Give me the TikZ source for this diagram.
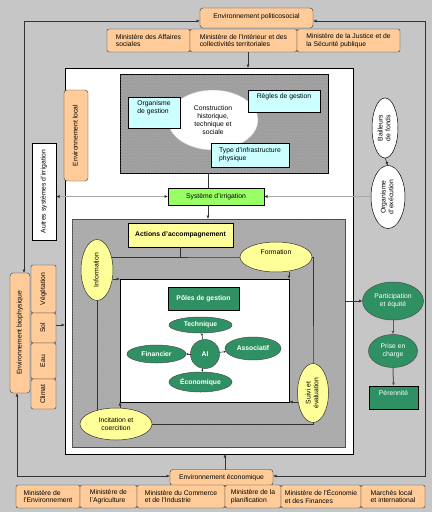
\documentclass[tikz,border=0pt]{standalone}
\usepackage{fontspec}
\setmainfont{Liberation Sans}
\usetikzlibrary{shapes.geometric,arrows.meta,calc,patterns}
\definecolor{bgc}{HTML}{C6C6C6}
\definecolor{orangec}{HTML}{FFCC99}
\definecolor{cyanc}{HTML}{CCFFFF}
\definecolor{yelc}{HTML}{FFFF99}
\definecolor{lgreenc}{HTML}{99FF66}
\definecolor{dgreenc}{HTML}{2F9163}
\definecolor{dgrayc}{HTML}{9E9E9E}
\definecolor{mgrayc}{HTML}{ABABAB}
\definecolor{dotc}{HTML}{B8B8B8}
\definecolor{lineg}{HTML}{A8A8A8}
\newcommand\fs{\fontsize{6.8}{7.8}\selectfont}
\newcommand\vt[1]{\rotatebox{90}{\begin{tabular}{@{}c@{}}#1\end{tabular}}}
\begin{document}
\begin{tikzpicture}[x=1pt,y=-1pt,
  every node/.style={font=\fs, inner sep=0pt, outer sep=0pt},
  ob/.style={draw=black!80, fill=orangec, rounded corners=2pt, line width=0.4pt},
  cyb/.style={draw=black, fill=cyanc, line width=0.5pt, align=left},
  yel/.style={ellipse, draw=black!80, fill=yelc, line width=0.5pt, align=center},
  gell/.style={ellipse, draw=black!70, fill=dgreenc, text=white, font=\fs\bfseries, line width=0.5pt, align=center},
  conn/.style={draw=black!80, line width=0.6pt},
  tip/.style={-{Latex[length=3.5pt,width=3pt]}},
  btip/.style={{Latex[length=3.5pt,width=3pt]}-{Latex[length=3.5pt,width=3pt]}},
  stip/.style={-{Latex[length=2.2pt,width=2.2pt]}},
  lgl/.style={draw=lineg, line width=0.8pt},
  dotted fill/.style={postaction={pattern=dots, pattern color=dotc}}]
\fill[bgc] (0,0) rectangle (432,512);
\useasboundingbox (0,0) rectangle (432,512);

% top
\node[ob, rounded corners=3pt, minimum width=113pt, minimum height=20pt, text depth=4pt] (pol) at (256.5,18) {Environnement politicosocial};
\node[ob, minimum width=83pt, minimum height=23pt, align=left] (m1) at (148.5,40.5) {Ministère des Affaires\\sociales};
\node[ob, minimum width=107pt, minimum height=23pt, align=left] (m2) at (243.5,40.5) {Ministère de l'Intérieur et des\\collectivités territoriales};
\node[ob, minimum width=103pt, minimum height=23pt, align=left] (m3) at (348.5,40.5) {Ministère de la Justice et de\\la Sécurité publique};

% main frame
\node[draw=black, line width=0.9pt, fill=white, minimum width=288pt, minimum height=386pt] (frame) at (209,261) {};

% context box
\node[draw=black, line width=0.6pt, fill=dgrayc, dotted fill, minimum width=208pt, minimum height=99pt] (ctx) at (224,123.5) {};
\node[ellipse, draw=gray!50, fill=white, minimum width=90pt, minimum height=60pt, align=center] (cons) at (213,120) {Construction\\historique,\\technique et\\sociale};
\node[cyb, minimum width=52pt, minimum height=31pt, text depth=10.5pt] (org) at (154,112.5) {Organisme\\de gestion};
\node[cyb, minimum width=72pt, minimum height=22pt, text depth=9.5pt] (regl) at (284,101) {Règles de gestion};
\node[cyb, minimum width=78pt, minimum height=24pt] (typ) at (250,155) {Type d'infrastructure\\physique};

\node[draw=black, fill=lgreenc, line width=0.5pt, minimum width=96pt, minimum height=17pt] (sys) at (216,196.5) {Système d'irrigation};

\node[ob, rounded corners=3pt, minimum width=24pt, minimum height=91pt] (envl) at (76,135.5) {\vt{Environnement local}};
\node[draw=black, fill=white, line width=0.5pt, minimum width=24pt, minimum height=97pt] (autres) at (44,191.5) {\vt{Autres systèmes d'irrigation}};

\node[ellipse, draw=black, fill=white, line width=0.5pt, minimum width=26pt, minimum height=60pt] (bail) at (385,128) {\vt{Bailleurs\\de fonds}};
\node[ellipse, draw=black, fill=white, line width=0.5pt, minimum width=34pt, minimum height=63pt] (orgex) at (388,197) {\vt{Organisme\\d'exécution}};

% biophysique
\node[ob, rounded corners=3pt, minimum width=20pt, minimum height=120pt] (bio) at (20,333) {\vt{Environnement biophysique}};
\node[ob, minimum width=25pt, minimum height=48pt] (veg) at (43.5,289) {\vt{Végétation}};
\node[ob, minimum width=25pt, minimum height=30pt] (sol) at (43.5,328) {\vt{Sol}};
\node[ob, minimum width=25pt, minimum height=36pt] (eau) at (43.5,361) {\vt{Eau}};
\node[ob, minimum width=25pt, minimum height=30pt] (clim) at (43.5,394) {\vt{Climat}};

% actions box
\node[draw=gray!60!black, line width=0.6pt, fill=mgrayc, dotted fill, minimum width=273pt, minimum height=228pt] (box2) at (208.5,333) {};
\node[draw=black, fill=yelc, line width=0.5pt, minimum width=105pt, minimum height=24pt, font=\fs\bfseries] (act) at (180.5,235) {Actions d'accompagnement};

\node[draw=black, line width=0.7pt, fill=white, minimum width=169pt, minimum height=123pt] (inner) at (204.5,340.5) {};

\coordinate (lpc) at (97,257);
\draw[conn] (act.south) -- (act.south |- lpc);
\draw[conn] (97,257) -- (276,257) -- (313,257) -- (313,393) -- (313,424) -- (97,424) -- cycle;

\node[yel, minimum width=32pt, minimum height=61pt] (info) at (97,270) {\vt{Information}};
\node[yel, minimum width=72pt, minimum height=30pt, text depth=9.5pt] (form) at (276,257) {Formation};
\node[yel, minimum width=31pt, minimum height=59pt] (suivi) at (313,393) {\vt{Suivi et\\évaluation}};
\node[yel, minimum width=72pt, minimum height=32pt] (inc) at (116,424) {Incitation et\\coercition};

\draw[conn,tip] (info.east |- inner.north) -- (inner.north west);
\draw[conn,tip] (form.south -| inner.north east) -- (inner.north east);
\draw[conn,tip] (inc.north -| inner.south west) -- (inner.south west);
\draw[conn,tip] (suivi.west |- inner.south east) -- (inner.south east);

\node[draw=black, fill=dgreenc, text=white, font=\fs\bfseries, line width=0.5pt, minimum width=71pt, minimum height=23pt] (poles) at (203.5,298.5) {Pôles de gestion};
\node[gell, minimum width=63pt, minimum height=16pt] (tech) at (200.5,325) {Technique};
\node[gell, minimum width=59pt, minimum height=18pt] (fin) at (156.5,354) {Financier};
\node[gell, minimum width=56pt, minimum height=23pt] (assoc) at (253,348.5) {Associatif};
\node[gell, minimum width=63pt, minimum height=20pt] (econ) at (200.5,382) {Économique};
\node[gell, circle, minimum size=29pt] (ai) at (205,354) {AI};
\draw[conn,stip] (ai) -- (tech);
\draw[conn,stip] (ai) -- (fin);
\draw[conn,stip] (ai) -- (assoc);
\draw[conn,stip] (ai) -- (econ);

% right column
\node[gell, font=\fs, minimum width=61pt, minimum height=38pt] (part) at (393,301) {Participation\\et équité};
\node[gell, font=\fs, minimum width=49pt, minimum height=33pt] (prise) at (393,351) {Prise en\\charge};
\node[draw=black, fill=dgreenc, text=white, line width=0.5pt, minimum width=49pt, minimum height=23pt, text depth=10pt] (per) at (393.5,397.5) {Pérennité};
\draw[conn,tip] (part.west -| box2.east) -- (part.west);
\draw[draw=gray!70!black, line width=1pt, tip] (part.south) -- (prise.north);
\draw[draw=gray!70!black, line width=1pt, tip] (prise.south) -- (per.north);

% bottom
\node[ob, rounded corners=3pt, minimum width=103pt, minimum height=16pt] (eco) at (221.5,477.5) {Environnement économique};
\node[ob, minimum width=64pt, minimum height=23pt, align=left] (b1) at (48,496.5) {Ministère de\\l'Environnement};
\node[ob, minimum width=57pt, minimum height=23pt, align=left] (b2) at (108.5,496.5) {Ministère de\\l'Agriculture};
\node[ob, minimum width=88pt, minimum height=23pt, align=left] (b3) at (181,496.5) {Ministère du Commerce\\et de l'Industrie};
\node[ob, minimum width=56pt, minimum height=23pt, align=left] (b4) at (253,496.5) {Ministère de la\\planification};
\node[ob, minimum width=80pt, minimum height=23pt, align=left] (b5) at (321,496.5) {Ministère de l'Économie\\ et des Finances};
\node[ob, minimum width=64pt, minimum height=23pt, align=left] (b6) at (393,496.5) {Marchés local\\et international};

% connectors
\coordinate (cBR) at (425,476);
\draw[conn,btip] ([yshift=-3pt]pol.west) -| ([xshift=4pt]bio.north);
\draw[conn,btip] ([yshift=-3pt]pol.east) -| (cBR) -- ([yshift=1.5pt]eco.east);
\draw[conn,btip] ([yshift=1.5pt]eco.west) -| ([xshift=-3pt]bio.south);
\coordinate (e1) at ([xshift=3.5pt]eco.north);
\draw[conn,tip] (e1) -- (e1 |- frame.south);
\coordinate (m2s) at ([xshift=4.5pt]m2.south);
\draw[conn,tip] (m2s) -- (m2s |- frame.north);
\coordinate (c1) at ([xshift=-16pt]ctx.south);
\draw[conn] (c1) -- (c1 |- sys.north);
\draw[conn,tip] (c1 |- sys.south) -- (c1 |- box2.north);
\draw[lgl, {Latex[length=3.5pt,width=3pt,color=black!80]}-{Latex[length=3.5pt,width=3pt,color=black!80]}] (sys.west) -- (sys.west -| autres.east);
\draw[lgl, -{Latex[length=3.5pt,width=3pt,color=black!80]}] (sys.east -| orgex.west) -- (sys.east);
\coordinate (s2) at ([yshift=3pt]sol.east);
\draw[conn,tip] (s2) -- (s2 -| frame.west);
\draw[conn,tip] (bail.south) -- (orgex.north);
\end{tikzpicture}
\end{document}
